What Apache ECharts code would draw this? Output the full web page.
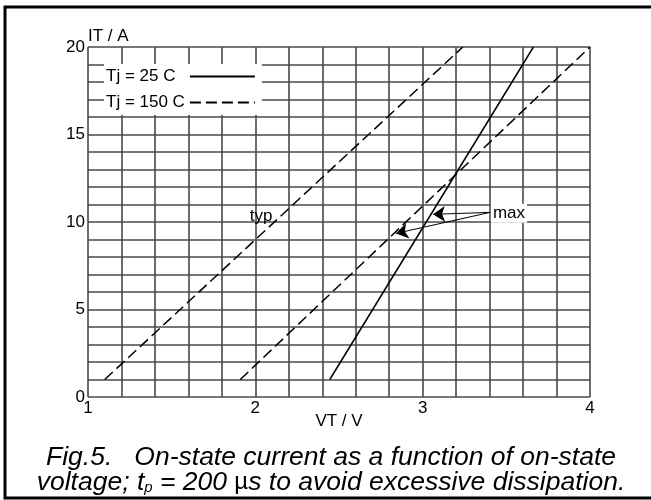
<!DOCTYPE html>
<html>
<head>
    <meta charset="utf-8">
    <title>Fig.5 On-state current</title>
    <script src="https://cdn.jsdelivr.net/npm/echarts@6/dist/echarts.min.js"></script>
    <style>
        html, body { margin: 0; padding: 0; background: #fff; }
        #main { width: 651px; height: 500px; }
    </style>
</head>
<body>
<div id="main"></div>
<script>
    // curves: [VT (V), IT (A)]
    var typ150 = [[1.10, 1], [3.24, 20]];
    var max150 = [[1.91, 1], [4.00, 20]];
    var max25 = [[2.445, 1], [3.662, 20]];

    // axis ranges / tick labels
    var xTicks = [1, 2, 3, 4];
    var yTicks = [0, 5, 10, 15, 20];

    // annotations
    var typPos = [2.034, 10.35];
    var maxPos = [3.516, 10.5];
    var arrowFrom = [3.403, 10.55];
    var arrowTo = [[3.062, 10.44], [2.841, 9.35]];

    var font = 'Liberation Sans, Arial, Helvetica, sans-serif';
    var dash = [11, 5];

    var myChart = echarts.init(document.getElementById('main'));

    var option = {
        backgroundColor: '#ffffff',
        animation: false,
        textStyle: { fontFamily: font, color: '#000' },
        title: {
            left: 326,
            textAlign: 'center',
            top: 440,
            text: '{a|Fig.5.   On-state current as a function of on-state}\n' +
                  '{a|voltage; t}{s|p}{a| = 200 }{m|\u00b5}{a|s to avoid excessive dissipation.}',
            textStyle: {
                fontWeight: 'normal',
                rich: {
                    a: { fontFamily: font, fontSize: 26.5, fontStyle: 'italic', fontWeight: 'normal', color: '#000', lineHeight: 25 },
                    s: { fontFamily: font, fontSize: 15, fontStyle: 'italic', fontWeight: 'normal', color: '#000', lineHeight: 8, verticalAlign: 'bottom' },
                    m: { fontFamily: font, fontSize: 24, fontWeight: 'normal', color: '#000', lineHeight: 25 }
                }
            }
        },
        graphic: [{
            type: 'rect',
            silent: true,
            z: -1,
            shape: { x: 5, y: 7, width: 700, height: 491 },
            style: { fill: 'none', stroke: '#000', lineWidth: 3 }
        }],
        legend: {
            data: ['Tj = 25 C', 'Tj = 150 C'],
            orient: 'vertical',
            left: 104,
            top: 64,
            align: 'right',
            itemWidth: 65,
            itemHeight: 14,
            itemGap: 9,
            padding: [4, 6, 4, 2],
            backgroundColor: '#fff',
            selectedMode: false,
            itemStyle: { opacity: 0 },
            formatter: function (name) {
                return name === 'Tj = 25 C' ? name + '  ' : name;
            },
            textStyle: { fontFamily: font, fontSize: 17, color: '#000' }
        },
        grid: { left: 88, right: 61, top: 47, bottom: 103, containLabel: false },
        xAxis: {
            type: 'value',
            min: 1,
            max: 4,
            interval: 0.2,
            name: 'VT / V',
            nameLocation: 'middle',
            nameGap: 16,
            nameMoveOverlap: false,
            nameTextStyle: { fontFamily: font, fontSize: 17, color: '#000' },
            axisLine: { show: false },
            axisTick: { show: false },
            axisLabel: {
                fontFamily: font, fontSize: 17, color: '#000', margin: 3,
                formatter: function (v) {
                    var r = Math.round(v);
                    return (Math.abs(v - r) < 1e-6 && xTicks.indexOf(r) >= 0) ? String(r) : '';
                }
            },
            splitLine: { show: true, lineStyle: { color: '#4a4a4a', width: 1.6 } }
        },
        yAxis: {
            type: 'value',
            min: 0,
            max: 20,
            interval: 1,
            name: 'IT / A',
            nameLocation: 'end',
            nameGap: 11,
            nameMoveOverlap: false,
            nameTextStyle: { fontFamily: font, fontSize: 17, color: '#000', align: 'left', verticalAlign: 'middle' },
            axisLine: { show: false },
            axisTick: { show: false },
            axisLabel: {
                fontFamily: font, fontSize: 17, color: '#000', margin: 3,
                formatter: function (v) {
                    var r = Math.round(v);
                    return yTicks.indexOf(r) >= 0 ? String(r) : '';
                }
            },
            splitLine: { show: true, lineStyle: { color: '#4a4a4a', width: 1.6 } }
        },
        series: [{
            name: 'Tj = 25 C',
            type: 'line',
            symbol: 'none',
            data: max25,
            lineStyle: { color: '#000', width: 1.5, type: 'solid' },
            itemStyle: { color: '#000' },
            markLine: {
                silent: true,
                symbol: ['none', 'arrow'],
                symbolSize: 12,
                label: { show: false },
                lineStyle: { color: '#000', width: 1, type: 'solid' },
                data: arrowTo.map(function (p) {
                    return [{ coord: arrowFrom }, { coord: p }];
                })
            }
        }, {
            name: 'Tj = 150 C',
            type: 'line',
            symbol: 'none',
            data: typ150,
            lineStyle: { color: '#000', width: 1.5, type: dash },
            itemStyle: { color: '#000' },
            markPoint: {
                silent: true,
                symbolSize: 0,
                label: { show: true, position: 'inside', fontFamily: font, fontSize: 17, color: '#000', formatter: 'typ' },
                data: [{ coord: typPos }]
            }
        }, {
            name: 'Tj = 150 C',
            type: 'line',
            symbol: 'none',
            data: max150,
            lineStyle: { color: '#000', width: 1.5, type: dash },
            itemStyle: { color: '#000' },
            markPoint: {
                silent: true,
                symbolSize: 0,
                label: {
                    show: true, position: 'inside', fontFamily: font, fontSize: 17, color: '#000',
                    backgroundColor: '#fff', padding: [1, 2], formatter: 'max'
                },
                data: [{ coord: maxPos }]
            }
        }]
    };
    myChart.setOption(option);
</script>
</body>
</html>
